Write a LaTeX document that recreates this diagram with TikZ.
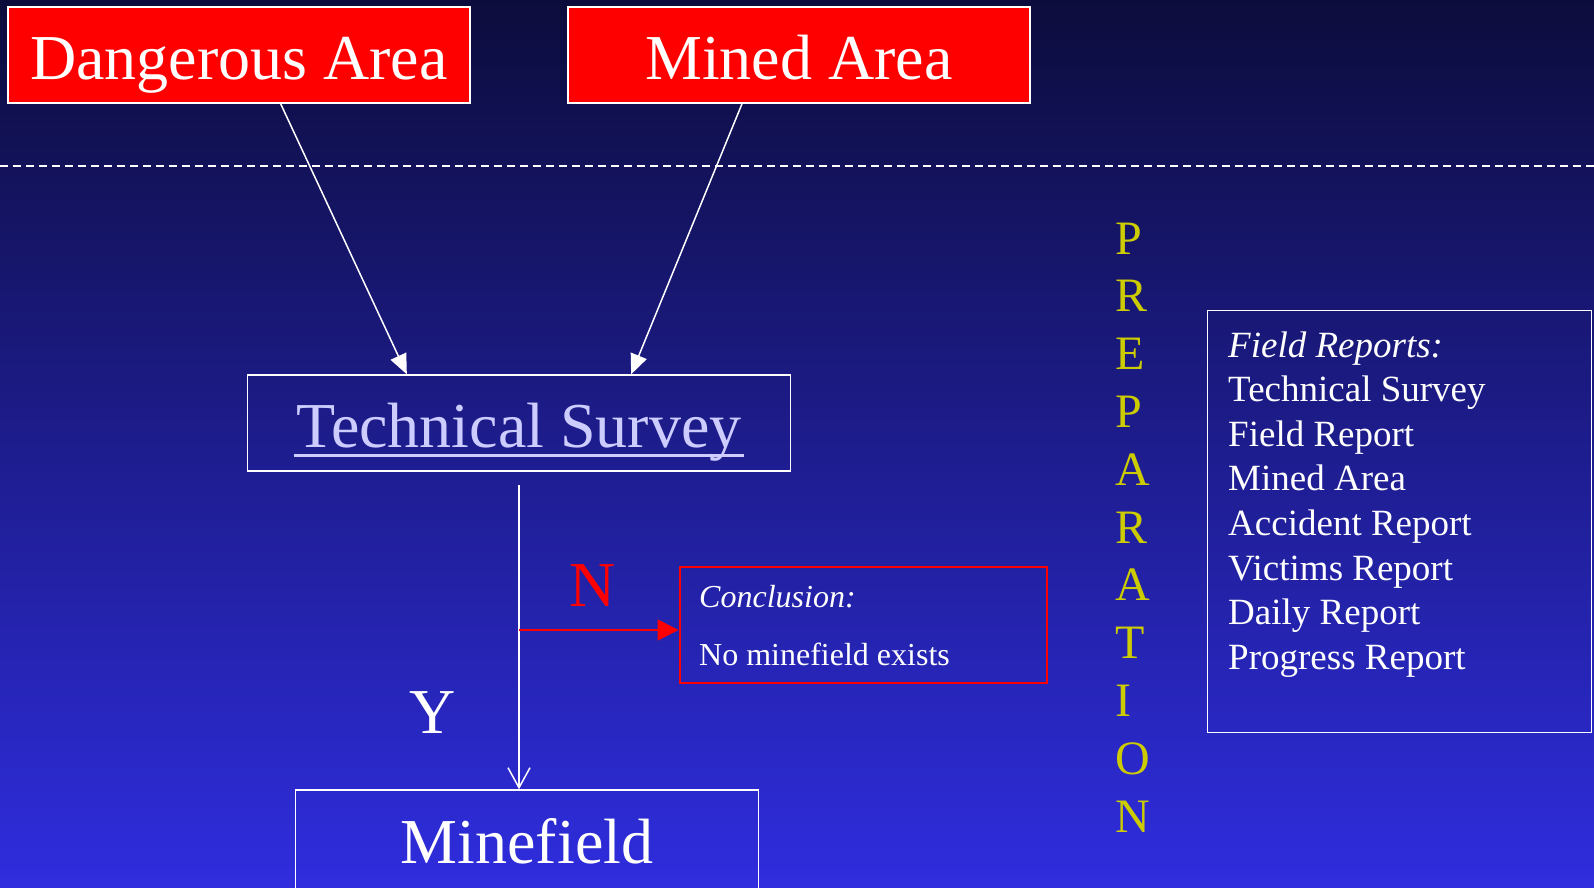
\documentclass[tikz,border=0pt]{standalone}
\usepackage{fontspec}
\setmainfont{Liberation Serif}
\usetikzlibrary{arrows.meta,calc}
\definecolor{bgtop}{RGB}{12,12,60}
\definecolor{bgmid}{RGB}{32,32,165}
\definecolor{bgbot}{RGB}{47,45,222}
\definecolor{lavender}{RGB}{204,204,255}
\definecolor{prepyellow}{RGB}{204,204,0}
\definecolor{pure red}{RGB}{255,0,0}
\begin{document}
\begin{tikzpicture}[x=1pt,y=-1pt,
  bigfont/.style={font=\fontsize{64}{64}\selectfont},
  redbox/.style={draw=white, line width=2pt, fill=pure red, text=white, bigfont,
    minimum width=462pt, minimum height=96pt, inner sep=0pt, text height=48pt, text depth=0pt},
  bluebox/.style={draw=white, line width=1.5pt, bigfont, minimum height=96pt,
    inner sep=0pt, text height=48pt, text depth=0pt},
  warrow/.style={white, line width=1.5pt, -{Triangle[length=20pt,width=17pt]}},
  varrow/.style={white, line width=1.5pt, -{Straight Barb[length=20pt,width=22pt]}},
  redarrow/.style={pure red, line width=2pt, -{Triangle[length=21pt,width=21pt]}},
  smalltext/.style={text=white, font=\fontsize{32}{32}\selectfont, inner sep=0pt, anchor=base west},
  frtext/.style={text=white, font=\fontsize{37}{37}\selectfont, inner sep=0pt, anchor=base west},
  prep/.style={text=prepyellow, font=\fontsize{48}{48}\selectfont, inner sep=0pt, anchor=base west},
  biglabel/.style={bigfont, inner sep=0pt, anchor=base}
]
\useasboundingbox (0,0) rectangle (1594,887);
\shade[top color=bgtop, middle color=bgmid, bottom color=bgbot] (0,0) rectangle (1594,887);
\clip (0,0) rectangle (1594,887);

% dashed separator
\coordinate (dl) at (0,166);
\coordinate (dr) at (1594,166);
\draw[white, line width=1.5pt, dash pattern=on 8pt off 5pt] (dl) -- (dr);

% top boxes
\node[redbox] (da) at (239,55) {Dangerous Area};
\node[redbox] (ma) at (799,55) {Mined Area};

% technical survey
\node[bluebox, minimum width=543pt, text=lavender] (ts) at (519,423) {Technical Survey};
\draw[lavender, line width=3pt] (294,455) -- (744,455);

% minefield (runs off the bottom edge)
\node[bluebox, minimum width=463pt, minimum height=120pt, text height=26pt, text=white] (mf) at (527,850) {Minefield};

% conclusion box
\node[draw=pure red, line width=2pt, minimum width=367pt, minimum height=116pt, inner sep=0pt] (cb) at (863,624.5) {};
\node[smalltext] (c1) at (699,607) {\itshape Conclusion:};
\node[smalltext] (c2) at (699,665) {No minefield exists};

% arrows from top boxes
\draw[warrow] ($(da.south west)!0.59!(da.south east)$) -- ($(ts.north west)!0.294!(ts.north east)$);
\draw[warrow] ($(ma.south west)!0.377!(ma.south east)$) -- ($(ts.north west)!0.706!(ts.north east)$);

% vertical Y arrow
\coordinate (vs) at ($(ts.south)+(0,13)$);
\draw[varrow] (vs) -- (vs |- mf.north);

% N arrow
\coordinate (split) at ($(vs |- cb.west)+(0,5.5)$);
\draw[redarrow] (split) -- (split -| cb.west);

\node[biglabel, text=pure red] (nlab) at (593,606) {N};
\node[biglabel, text=white] (ylab) at (433,733) {Y};

% PREPARATION
\foreach \l [count=\i from 0] in {P,R,E,P,A,R,A,T,I,O,N}
  \node[prep] (prep\i) at (1115,{254+57.8*\i}) {\l};

% field reports box
\node[draw=white, line width=1.5pt, minimum width=384pt, minimum height=422pt, inner sep=0pt] (fr) at (1399.5,521.5) {};
\node[frtext] (fr0) at (1228,357) {\itshape Field Reports:};
\foreach \t [count=\i] in {Technical Survey, Field Report, Mined Area, Accident Report, Victims Report, Daily Report, Progress Report}
  \node[frtext] (fr\i) at (1228,{357+44.6*\i}) {\t};
\end{tikzpicture}
\end{document}
